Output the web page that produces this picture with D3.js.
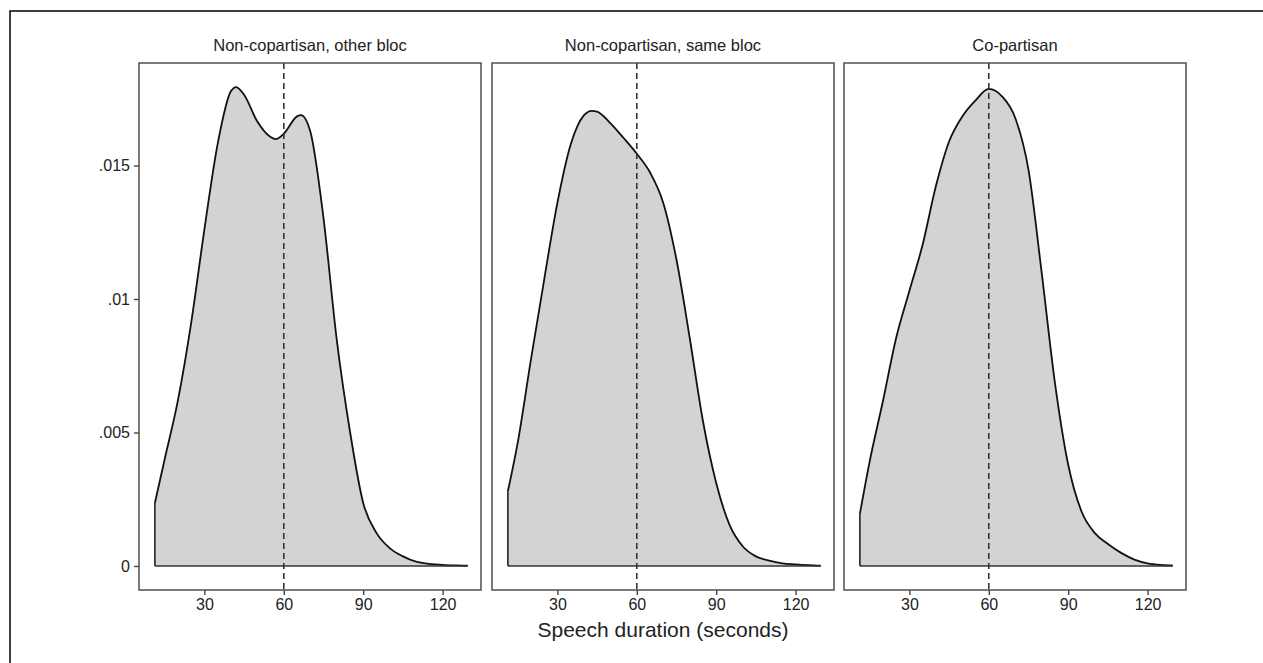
<!DOCTYPE html>
<html>
<head>
<meta charset="utf-8">
<script src="https://cdn.jsdelivr.net/npm/d3@7"></script>
<style>
  body { margin: 0; background: #fff; }
  text { font-family: "Liberation Sans", Arial, sans-serif; fill: #222; }
</style>
</head>
<body>
<div id="chart-container"></div>
<script>
// panel titles
const panels = ["Non-copartisan, other bloc", "Non-copartisan, same bloc", "Co-partisan"];

// density estimates (duration in seconds, density)
const otherBlocDur = [11.3, 15, 20, 25, 30, 35, 40, 42, 45, 50, 55, 57, 60, 65, 66.5, 70, 75, 80, 85, 90, 95, 100, 105, 110, 115, 120, 125, 129.5];
const otherBlocDens = [0.00236, 0.0040, 0.0062, 0.0091, 0.0126, 0.0158, 0.01778, 0.01794, 0.01765, 0.01665, 0.01607, 0.01599, 0.01619, 0.01684, 0.01689, 0.01628, 0.01303, 0.00848, 0.00504, 0.00236, 0.00124, 0.00067, 0.00036, 0.00016, 0.00008, 0.00004, 0.00002, 0.00001];

const sameBlocDur = [11.3, 15, 20, 25, 30, 35, 40, 43, 45, 50, 55, 60, 65, 70, 75, 80, 85, 90, 95, 100, 105, 110, 115, 120, 125, 129.5];
const sameBlocDens = [0.0028, 0.00461, 0.00773, 0.01072, 0.0136, 0.01578, 0.01688, 0.01705, 0.01702, 0.01659, 0.01603, 0.01544, 0.01474, 0.0136, 0.01147, 0.00854, 0.00542, 0.00311, 0.00155, 0.00074, 0.00036, 0.0002, 0.0001, 0.00006, 0.00003, 0.00001];

const copartisanDur = [11.3, 15, 20, 25, 30, 35, 40, 45, 50, 55, 60, 65, 70, 75, 80, 85, 90, 95, 100, 105, 110, 115, 120, 125, 129.5];
const copartisanDens = [0.00195, 0.00392, 0.00617, 0.00854, 0.0103, 0.01203, 0.01422, 0.0159, 0.01684, 0.01744, 0.01787, 0.01759, 0.01678, 0.01484, 0.01097, 0.00685, 0.00379, 0.00205, 0.00124, 0.00082, 0.00049, 0.00024, 0.0001, 0.00004, 0.00002];

const xTicks = [30, 60, 90, 120];
const yTicks = [0, 0.005, 0.01, 0.015];
const yTickLabels = ["0", ".005", ".01", ".015"];
const refLine = 60;
const xTitle = "Speech duration (seconds)";

const series = [
  { dur: otherBlocDur, dens: otherBlocDens },
  { dur: sameBlocDur, dens: sameBlocDens },
  { dur: copartisanDur, dens: copartisanDens },
];

// canvas
const w = 1263;
const h = 663;
const panelLeft = [139, 492, 844];
const panelW = 342;
const panelTop = 63;
const panelBottom = 590;

const svg = d3
  .select("#chart-container")
  .append("svg")
  .attr("width", w)
  .attr("height", h);

// outer frame (only top and left edges are in view)
svg
  .append("path")
  .attr("d", `M10,${h + 5} L10,11 L${w + 5},11`)
  .attr("fill", "none")
  .attr("stroke", "#000")
  .attr("stroke-width", 1.5);

// y scale shared by all panels
const yScale = d3.scaleLinear().domain([-0.0009, 0.01884]).range([panelBottom, panelTop]);

panels.forEach((title, i) => {
  const x0 = panelLeft[i];
  const xScale = d3.scaleLinear().domain([5.3, 134.5]).range([x0, x0 + panelW]);
  const d = series[i];
  const pts = d.dur.map((v, j) => [v, d.dens[j]]);

  const g = svg.append("g");

  // filled density
  const area = d3
    .area()
    .x((p) => xScale(p[0]))
    .y0(yScale(0))
    .y1((p) => yScale(p[1]))
    .curve(d3.curveMonotoneX);

  g.append("path")
    .datum(pts)
    .attr("d", area)
    .attr("fill", "#d3d3d3")
    .attr("stroke", "none");

  // outline: left edge, curve, then baseline
  const line = d3
    .line()
    .x((p) => xScale(p[0]))
    .y((p) => yScale(p[1]))
    .curve(d3.curveMonotoneX);

  g.append("path")
    .datum(pts)
    .attr("d", line)
    .attr("fill", "none")
    .attr("stroke", "#111")
    .attr("stroke-width", 1.8);

  g.append("line")
    .attr("x1", xScale(pts[0][0]))
    .attr("x2", xScale(pts[0][0]))
    .attr("y1", yScale(0))
    .attr("y2", yScale(pts[0][1]))
    .attr("stroke", "#222")
    .attr("stroke-width", 1.6);

  g.append("line")
    .attr("x1", xScale(pts[0][0]))
    .attr("x2", xScale(pts[pts.length - 1][0]))
    .attr("y1", yScale(0))
    .attr("y2", yScale(0))
    .attr("stroke", "#333")
    .attr("stroke-width", 1.6);

  // dashed reference at 60 seconds
  g.append("line")
    .attr("x1", xScale(refLine))
    .attr("x2", xScale(refLine))
    .attr("y1", panelTop)
    .attr("y2", panelBottom)
    .attr("stroke", "#333")
    .attr("stroke-width", 1.6)
    .attr("stroke-dasharray", "6,4");

  // panel frame
  g.append("rect")
    .attr("x", x0)
    .attr("y", panelTop)
    .attr("width", panelW)
    .attr("height", panelBottom - panelTop)
    .attr("fill", "none")
    .attr("stroke", "#444")
    .attr("stroke-width", 1.4);

  // x axis
  const xAxis = d3.axisBottom(xScale).tickValues(xTicks).tickSize(5).tickPadding(4);
  const gx = svg
    .append("g")
    .attr("transform", "translate(0," + panelBottom + ")")
    .call(xAxis);
  gx.select(".domain").remove();
  gx.selectAll(".tick line").attr("stroke", "#444").attr("stroke-width", 1.4);
  gx.selectAll(".tick text")
    .attr("font-size", 16)
    .attr("font-family", "Liberation Sans, Arial, sans-serif")
    .attr("fill", "#222");

  // panel title
  svg
    .append("text")
    .attr("x", x0 + panelW / 2)
    .attr("y", 51)
    .attr("text-anchor", "middle")
    .attr("font-size", 16.5)
    .text(title);

  // y axis only on first panel
  if (i === 0) {
    const yAxis = d3
      .axisLeft(yScale)
      .tickValues(yTicks)
      .tickFormat((v, k) => yTickLabels[k])
      .tickSize(5)
      .tickPadding(4);
    const gy = svg
      .append("g")
      .attr("transform", "translate(" + x0 + ",0)")
      .call(yAxis);
    gy.select(".domain").remove();
    gy.selectAll(".tick line").attr("stroke", "#444").attr("stroke-width", 1.4);
    gy.selectAll(".tick text")
      .attr("font-size", 16)
      .attr("font-family", "Liberation Sans, Arial, sans-serif")
      .attr("fill", "#222");
  }
});

// x axis title under the middle panel
svg
  .append("text")
  .attr("x", panelLeft[1] + panelW / 2)
  .attr("y", 637)
  .attr("text-anchor", "middle")
  .attr("font-size", 21)
  .text(xTitle);
</script>
</body>
</html>
